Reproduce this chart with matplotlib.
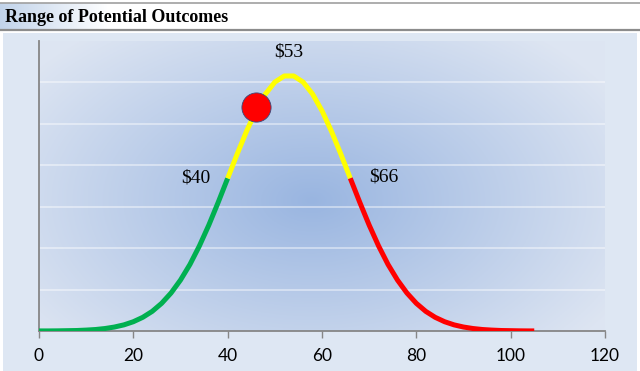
import matplotlib
matplotlib.use("Agg")
import matplotlib.pyplot as plt
import numpy as np
from matplotlib.patches import Rectangle
from matplotlib.lines import Line2D

# precio ($) y densidad (x 1e-3)
precio = [0, 2, 4, 6, 8, 10, 12, 14, 16, 18, 20, 22, 24, 26, 28, 30, 32, 34, 36, 38,
          40, 42, 44, 46, 48, 50, 52, 54, 56, 58, 60, 62, 64, 66,
          68, 70, 72, 74, 76, 78, 80, 82, 84, 86, 88, 90, 92, 94, 96, 98, 100, 102, 104, 105]
densidad = [0.01, 0.01, 0.02, 0.04, 0.06, 0.11, 0.18, 0.30, 0.48, 0.74, 1.12, 1.65, 2.37, 3.34,
            4.59, 6.15, 8.03, 10.26, 12.78, 15.54, 18.43, 21.34, 24.11, 26.58, 28.60, 30.04,
            30.78, 30.78, 30.04, 28.60, 26.58, 24.11, 21.34, 18.43, 15.54, 12.78, 10.26, 8.03,
            6.15, 4.59, 3.34, 2.37, 1.65, 1.12, 0.74, 0.48, 0.30, 0.18, 0.11, 0.06, 0.04,
            0.02, 0.01, 0.01]

limite_bajo = 40
limite_alto = 66
punto_x, punto_y = 46, 27.0

etiquetas = [("$40", 33.2, 18.5), ("$53", 53, 33.7), ("$66", 73.0, 18.6)]
ticks_x = [0, 20, 40, 60, 80, 100, 120]

W, H = 640, 371
fig = plt.figure(figsize=(W / 100, H / 100), dpi=100)
fig.patch.set_facecolor("white")


def px(x0, y0, x1, y1):
    # caja en pixeles (origen arriba a la izquierda) -> coords de figura
    return [x0 / W, 1 - y1 / H, (x1 - x0) / W, (y1 - y0) / H]


# franja del titulo con degradado
ax_tit = fig.add_axes(px(0, 3, 640, 29))
grad = np.linspace(0, 1, 400)
grad = np.clip(grad / 0.17, 0, 1)
c0 = np.array([0.76, 0.83, 0.92])
c1 = np.array([1.0, 1.0, 1.0])
img = c0[None, :] * (1 - grad[:, None]) + c1[None, :] * grad[:, None]
ax_tit.imshow(img[None, :, :], aspect="auto", extent=[0, 1, 0, 1])
ax_tit.set_axis_off()
fig.add_artist(Line2D([0, 1], [1 - 2.5 / H, 1 - 2.5 / H], color="#a0a0a0", lw=1.2))
fig.add_artist(Line2D([0, 1], [1 - 29.5 / H, 1 - 29.5 / H], color="#8c8c8c", lw=1.6))
fig.text(5 / W, 1 - 17 / H, "Range of Potential Outcomes", family="Liberation Serif",
         fontweight="bold", fontsize=13, va="center", ha="left", color="black")

# fondo del area del grafico
fig.add_artist(Rectangle((3 / W, 0), 634 / W, 1 - 33 / H, transform=fig.transFigure,
                         facecolor="#dee7f3", edgecolor="none", zorder=0))

ax = fig.add_axes(px(39, 41, 605, 331))
ax.set_xlim(0, 120)
ax.set_ylim(0, 35)

# degradado radial del area de trazado
nx, ny = 300, 160
gx, gy = np.meshgrid(np.linspace(0, 1, nx), np.linspace(0, 1, ny))
r = np.sqrt(((gx - 0.48) / 0.62) ** 2 + ((gy - 0.45) / 0.75) ** 2)
r = np.clip(r, 0, 1)
centro = np.array([0.60, 0.71, 0.88])
borde = np.array([0.87, 0.90, 0.95])
fondo = centro[None, None, :] * (1 - r[..., None]) + borde[None, None, :] * r[..., None]
ax.imshow(fondo, aspect="auto", extent=[0, 1.004, 0, 1], transform=ax.transAxes,
          zorder=0, origin="lower")

for g in [5, 10, 15, 20, 25, 30]:
    ax.axhline(g, color="white", lw=1.1, alpha=0.55, zorder=1)

precio = np.array(precio)
densidad = np.array(densidad)
verde = precio <= limite_bajo
amarillo = (precio >= limite_bajo) & (precio <= limite_alto)
rojo = precio >= limite_alto
ax.plot(precio[verde], densidad[verde], color="#00b050", lw=3.6, solid_capstyle="butt", zorder=3)
ax.plot(precio[amarillo], densidad[amarillo], color="#ffff00", lw=3.6, solid_capstyle="butt", zorder=3)
ax.plot(precio[rojo], densidad[rojo], color="#ff0000", lw=3.6, solid_capstyle="butt", zorder=3)

ax.plot([punto_x], [punto_y], "o", ms=21, color="#ff0000", mec="#3b4a7a", mew=0.6, zorder=4)

for txt, x, y in etiquetas:
    ax.text(x, y, txt, family="Liberation Serif", fontsize=14, ha="center", va="center", zorder=5)

ax.set_xticks(ticks_x)
ax.set_yticks([])
ax.tick_params(axis="x", direction="out", length=5, width=1, color="#868686", pad=7,
               labelsize=12.5)
for lab in ax.get_xticklabels():
    lab.set_family("Lato")
for s in ["top", "right"]:
    ax.spines[s].set_visible(False)
ax.spines["left"].set_color("#868686")
ax.spines["bottom"].set_color("#868686")
ax.spines["left"].set_linewidth(1.3)
ax.spines["bottom"].set_linewidth(1.3)

fig.savefig("out.png", dpi=100, facecolor=fig.get_facecolor())
